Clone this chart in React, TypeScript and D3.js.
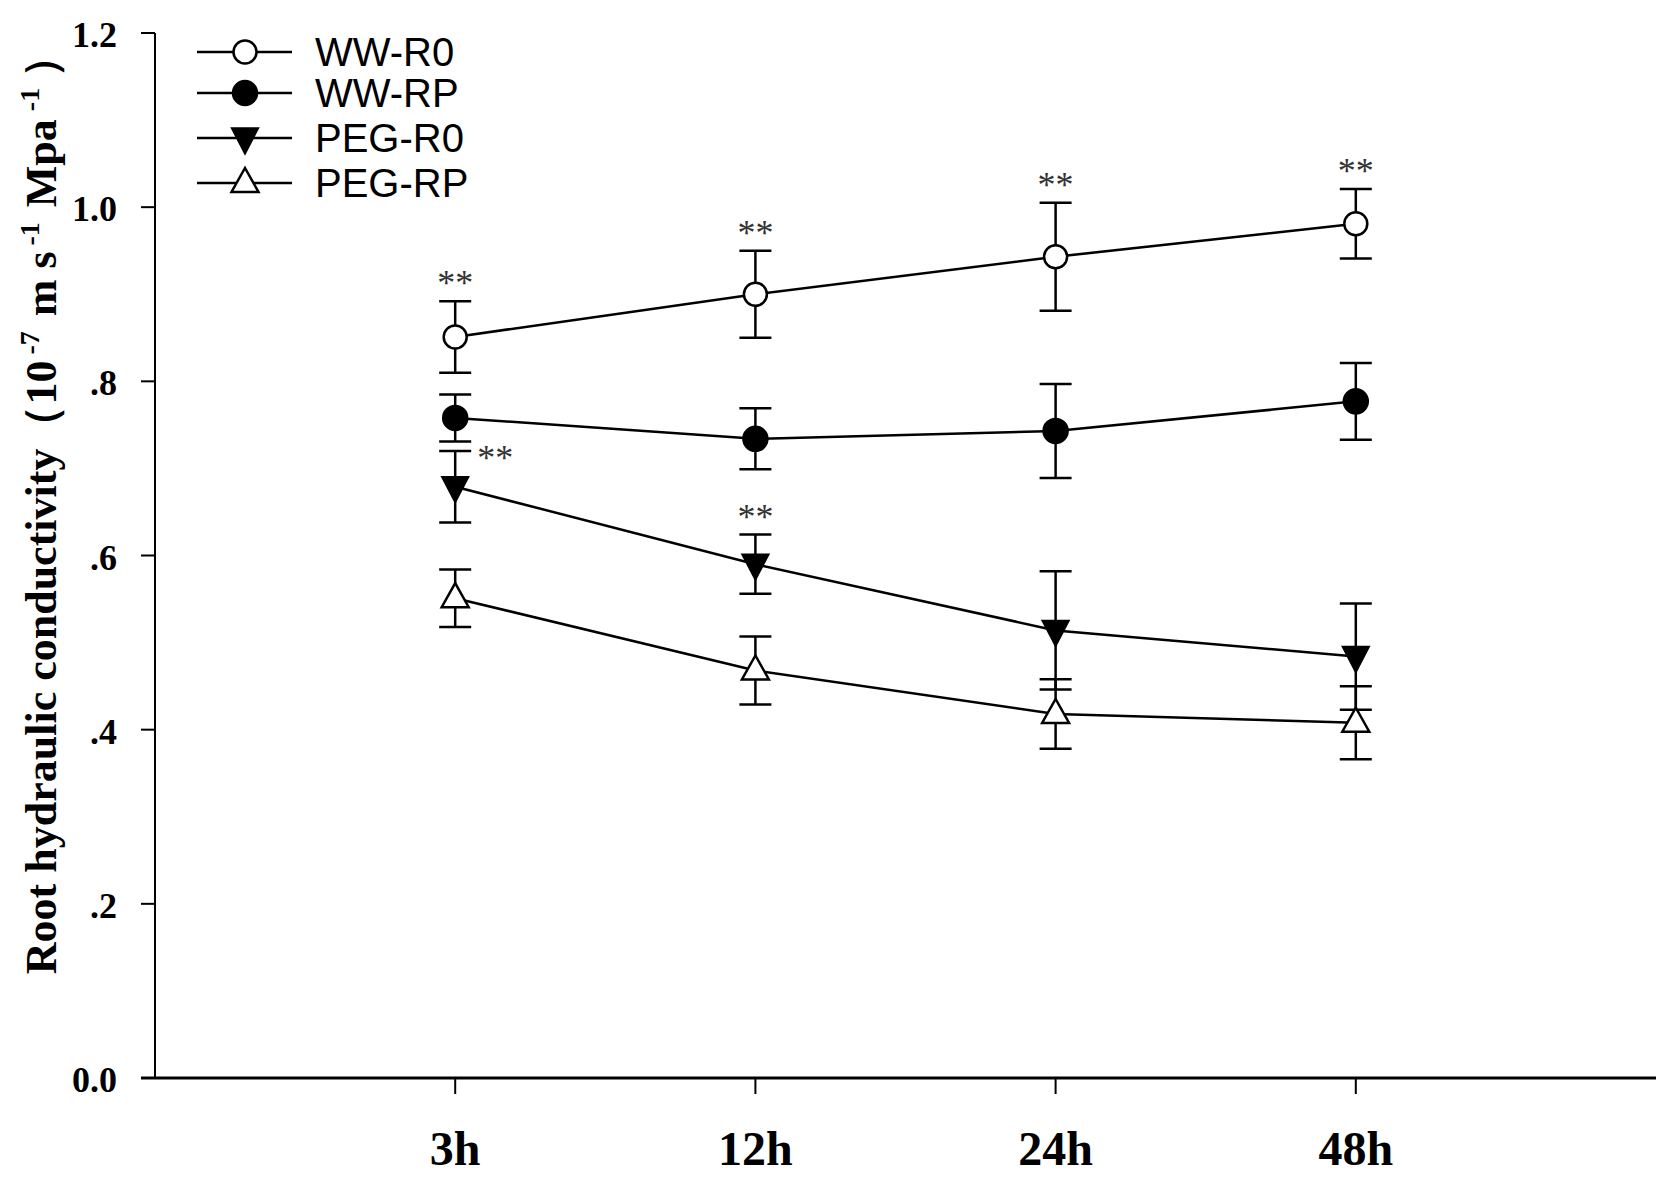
import React from "react";
import * as d3 from "d3";

const W = 1659;
const H = 1188;

const categories = ["3h", "12h", "24h", "48h"];
const seriesNames = ["WW-R0", "WW-RP", "PEG-R0", "PEG-RP"];
const wwR0 = [0.851, 0.9, 0.943, 0.981];
const wwR0Err = [0.041, 0.05, 0.062, 0.04];
const wwRP = [0.758, 0.734, 0.743, 0.777];
const wwRPErr = [0.027, 0.035, 0.054, 0.044];
const pegR0 = [0.679, 0.59, 0.514, 0.484];
const pegR0Err = [0.041, 0.034, 0.068, 0.061];
const pegRP = [0.551, 0.468, 0.418, 0.408];
const pegRPErr = [0.033, 0.039, 0.04, 0.042];
const yTicks = [0, 0.2, 0.4, 0.6, 0.8, 1.0, 1.2];
const yTickLabels = ["0.0", ".2", ".4", ".6", ".8", "1.0", "1.2"];
// significance marks: [series index, category index, placement]
const sigMarks: [number, number, string][] = [
  [0, 0, "top"],
  [0, 1, "top"],
  [0, 2, "top"],
  [0, 3, "top"],
  [2, 0, "right"],
  [2, 1, "top"],
];

const values = [wwR0, wwRP, pegR0, pegRP];
const errors = [wwR0Err, wwRPErr, pegR0Err, pegRPErr];
const markerTypes = ["circleOpen", "circleFilled", "triDown", "triUp"];

const left = 155;
const right = 1656;
const top = 33;
const bottom = 1078;

const x = d3.scaleLinear().domain([0, 5]).range([left, right]);
const y = d3.scaleLinear().domain([0, 1.2]).range([bottom, top]);

const serif = "'Liberation Serif', 'Times New Roman', serif";
const sans = "'Liberation Sans', Arial, sans-serif";

function Marker({ type, cx, cy }: { type: string; cx: number; cy: number }) {
  const sw = 2.5;
  if (type === "circleOpen")
    return <circle cx={cx} cy={cy} r={11.5} fill="#fff" stroke="#000" strokeWidth={sw} />;
  if (type === "circleFilled")
    return <circle cx={cx} cy={cy} r={12} fill="#000" stroke="#000" strokeWidth={sw} />;
  if (type === "triDown") {
    const p = d3.path();
    p.moveTo(cx - 13.5, cy - 10);
    p.lineTo(cx + 13.5, cy - 10);
    p.lineTo(cx, cy + 16);
    p.closePath();
    return <path d={p.toString()} fill="#000" stroke="#000" strokeWidth={1.5} strokeLinejoin="miter" />;
  }
  const p = d3.path();
  p.moveTo(cx - 13.5, cy + 9);
  p.lineTo(cx + 13.5, cy + 9);
  p.lineTo(cx, cy - 15);
  p.closePath();
  return <path d={p.toString()} fill="#fff" stroke="#000" strokeWidth={sw} strokeLinejoin="miter" />;
}

export default function App() {
  const line = d3
    .line<number>()
    .x((_, i) => x(i + 1))
    .y((d) => y(d));

  return (
    <svg
      width={W}
      height={H}
      viewBox={`0 0 ${W} ${H}`}
      style={{ position: "absolute", left: 0, top: 0, background: "#fff" }}
    >
      <rect x={0} y={0} width={W} height={H} fill="#fff" />

      {/* Y axis */}
      <line x1={left} x2={left} y1={top} y2={bottom} stroke="#000" strokeWidth={2} />
      {yTicks.map((t, i) => (
        <g key={t}>
          <line x1={left - 14} x2={left} y1={y(t)} y2={y(t)} stroke="#000" strokeWidth={2} />
          <text
            x={left - 38}
            y={y(t) + 2}
            textAnchor="end"
            dominantBaseline="central"
            fontFamily={serif}
            fontWeight="bold"
            fontSize={36}
          >
            {yTickLabels[i]}
          </text>
        </g>
      ))}

      {/* X axis */}
      <line x1={left - 14} x2={right} y1={bottom} y2={bottom} stroke="#000" strokeWidth={3.2} />
      {categories.map((c, i) => (
        <g key={c}>
          <line x1={x(i + 1)} x2={x(i + 1)} y1={bottom} y2={bottom + 16} stroke="#000" strokeWidth={2} />
          <text
            x={x(i + 1)}
            y={1165}
            textAnchor="middle"
            fontFamily={serif}
            fontWeight="bold"
            fontSize={48}
          >
            {c}
          </text>
        </g>
      ))}

      {/* Y label */}
      <text
        transform={`translate(56, 504) rotate(-90)`}
        textAnchor="middle"
        fontFamily={serif}
        fontWeight="bold"
        fontSize={44}
      >
        <tspan>Root hydraulic conductivity（10</tspan>
        <tspan dx={6} dy={-17} fontSize={28}>-7</tspan>
        <tspan dx={4} dy={17}> m s</tspan>
        <tspan dx={6} dy={-17} fontSize={28}>-1</tspan>
        <tspan dx={4} dy={17}> Mpa</tspan>
        <tspan dx={8} dy={-17} fontSize={28}>-1</tspan>
        <tspan dx={10} dy={17}>）</tspan>
      </text>

      {/* Lines */}
      {values.map((v, s) => (
        <path key={"l" + s} d={line(v) || ""} fill="none" stroke="#000" strokeWidth={2.5} />
      ))}

      {/* Error bars */}
      {values.map((v, s) =>
        v.map((d, i) => {
          const cx = x(i + 1);
          const hi = y(d + errors[s][i]);
          const lo = y(d - errors[s][i]);
          return (
            <g key={`e${s}-${i}`} stroke="#000" strokeWidth={2.5}>
              <line x1={cx} x2={cx} y1={hi} y2={lo} />
              <line x1={cx - 16} x2={cx + 16} y1={hi} y2={hi} />
              <line x1={cx - 16} x2={cx + 16} y1={lo} y2={lo} />
            </g>
          );
        })
      )}

      {/* Markers */}
      {values.map((v, s) =>
        v.map((d, i) => <Marker key={`m${s}-${i}`} type={markerTypes[s]} cx={x(i + 1)} cy={y(d)} />)
      )}

      {/* Significance */}
      {sigMarks.map(([s, i, place], k) => {
        const capY = y(values[s][i] + errors[s][i]);
        const cx = place === "top" ? x(i + 1) : x(i + 1) + 40;
        const cy = place === "top" ? capY - 23 : capY + 2;
        return (
          <text
            key={"s" + k}
            x={cx}
            y={cy + 17}
            textAnchor="middle"
            fontFamily={serif}
            fontSize={36}
            fill="#333"
          >
            **
          </text>
        );
      })}

      {/* Legend */}
      {seriesNames.map((n, s) => {
        const ly = [52, 93, 138, 183][s];
        return (
          <g key={"lg" + s}>
            <line x1={197} x2={292} y1={ly} y2={ly} stroke="#000" strokeWidth={2.5} />
            <Marker type={markerTypes[s]} cx={245} cy={ly} />
            <text x={315} y={ly} dominantBaseline="central" fontFamily={sans} fontSize={40}>
              {n}
            </text>
          </g>
        );
      })}
    </svg>
  );
}
